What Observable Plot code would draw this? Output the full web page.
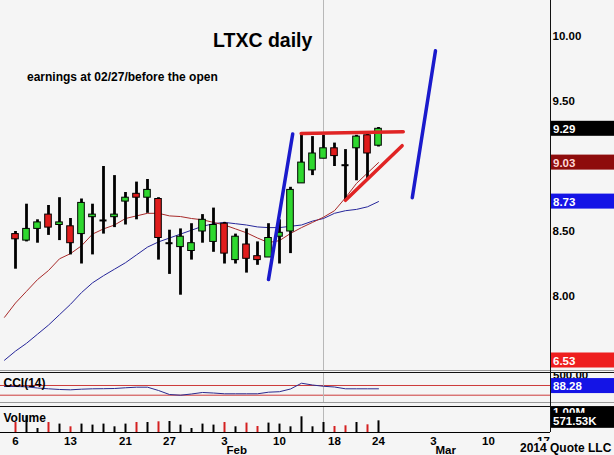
<!DOCTYPE html>
<html><head><meta charset="utf-8">
<script src="https://cdn.jsdelivr.net/npm/d3@7"></script>
<script src="https://cdn.jsdelivr.net/npm/@observablehq/plot@0.6"></script>
<style>
html,body{margin:0;padding:0;background:#f5f5f5;overflow:hidden;}
#chart{position:relative;width:614px;height:455px;overflow:hidden;background:#f5f5f5;font-family:"Liberation Sans",Arial,sans-serif;font-weight:bold;}
#chart svg{position:absolute;left:0;overflow:hidden;}
.ln{position:absolute;}
</style></head><body><div id="chart"></div>
<script>
// ---- data (trading-day index 0 = Jan 6 2014 ... 33 = Feb 24 2014)
const days = ["01-06","01-07","01-08","01-09","01-10","01-13","01-14","01-15","01-16","01-17",
  "01-21","01-22","01-23","01-24","01-27","01-28","01-29","01-30","01-31",
  "02-03","02-04","02-05","02-06","02-07","02-10","02-11","02-12","02-13","02-14",
  "02-18","02-19","02-20","02-21","02-24"];
const opens  = [8.48,8.43,8.52,8.63,8.55,8.54,8.48,8.61,8.585,8.61,8.73,8.79,8.76,8.75,8.41,8.38,8.35,8.50,8.42,8.56,8.28,8.40,8.31,8.30,8.46,8.50,8.87,8.97,9.06,9.14,9.01,9.14,9.24,9.16];
const highs  = [8.50,8.71,8.59,8.70,8.76,8.60,8.75,8.71,9.00,8.93,8.80,8.88,8.90,8.76,8.51,8.52,8.56,8.63,8.68,8.57,8.48,8.52,8.42,8.56,8.59,8.84,9.24,9.23,9.24,9.18,9.13,9.24,9.25,9.30];
const lows   = [8.21,8.42,8.41,8.47,8.43,8.32,8.25,8.32,8.48,8.53,8.55,8.59,8.64,8.28,8.17,8.01,8.28,8.41,8.34,8.25,8.25,8.18,8.24,8.30,8.25,8.33,8.87,8.93,9.06,9.00,8.74,8.89,8.90,9.15];
const closes = [8.44,8.52,8.57,8.53,8.57,8.41,8.72,8.63,8.585,8.63,8.76,8.76,8.82,8.45,8.41,8.46,8.41,8.59,8.55,8.33,8.46,8.29,8.28,8.45,8.49,8.82,9.03,9.10,9.14,9.08,9.01,9.23,9.10,9.29];
// moving averages, from index -1 to 33
const maRed  = [7.84,7.95,8.04,8.13,8.20,8.29,8.33,8.39,8.48,8.52,8.55,8.60,8.62,8.64,8.64,8.62,8.615,8.60,8.59,8.57,8.55,8.52,8.49,8.45,8.415,8.43,8.485,8.53,8.57,8.61,8.66,8.76,8.87,8.95,9.03];
const maBlue = [7.51,7.58,7.64,7.71,7.78,7.86,7.94,8.03,8.105,8.16,8.21,8.26,8.32,8.38,8.42,8.45,8.48,8.51,8.54,8.56,8.57,8.56,8.55,8.535,8.53,8.53,8.54,8.55,8.58,8.60,8.64,8.66,8.67,8.69,8.73];
// CCI(14), from index -1 to 33
const cci = [79,79,73,48,32,18,11,24,32,34,38,53,65,65,-3,-86,-100,-75,-44,-55,-71,-71,-71,-71,-38,-28,28,147,110,84,69,32,32,32,32];
// volume (shares) and down-day flags
const volume = [490e3,818e3,196e3,490e3,412e3,279e3,412e3,363e3,412e3,279e3,412e3,490e3,490e3,524e3,539e3,363e3,196e3,412e3,363e3,490e3,279e3,461e3,294e3,461e3,412e3,279e3,769e3,279e3,490e3,294e3,328e3,490e3,377e3,571.53e3];
const volDown = [1,0,0,1,0,1,0,0,0,0,0,1,0,1,0,0,0,0,0,1,0,1,1,0,0,0,0,0,0,1,1,0,1,0];
// drawn annotations: [index, price] end points
const blueLegs = [{id:"a",pts:[[23,8.13],[25.2,9.25]]},{id:"b",pts:[[36.07,8.76],[38.18,9.89]]}];
const redLines = [{id:"top",pts:[[25.97,9.254],[35.25,9.267]]},{id:"bot",pts:[[30,8.74],[35.15,9.16]]}];
const cursorIndex = 28;
// axis ticks
const priceTicks = [8, 8.5, 9.5, 10];
const tickIndex  = [0,5,10,14,19,24,29,33,38,43,48];
const tickLabels = ["6","13","21","27","3","10","18","24","3","10","17"];
const monthIndex = [19,38];
const monthLabels = ["Feb","Mar"];
// last-value labels
const priceLabels = [{v:9.29,t:"9.29",bg:"#000000",fg:"#ffffff"},{v:9.03,t:"9.03",bg:"#8e0c0c",fg:"#ffd8d8"},{v:8.73,t:"8.73",bg:"#1414e6",fg:"#ffffff"},{v:6.53,t:"6.53",bg:"#ee1e1e",fg:"#ffffff"}];
const cciLabels = [{v:500,t:"500.00",bg:"#f5f5f5",fg:"#000"},{v:88.28,t:"88.28",bg:"#1414e6",fg:"#ffffff"}];
const volLabels = [{v:1e6,t:"1.00M",bg:"#000",fg:"#fff"},{v:571.53e3,t:"571.53K",bg:"#000",fg:"#fff"}];

// ---- build
const chart = document.getElementById("chart");
const xDomain = [-15/11, 535/11];
const font = {fontFamily:'"Liberation Sans", Arial, sans-serif', fontSize:"11.5px", fontWeight:"bold", background:"transparent", color:"#000"};
const candles = opens.map((o,i)=>({i, open:o, high:highs[i], low:lows[i], close:closes[i]}));
const bodies = candles.filter(d=>d.open!==d.close);
const dojis = candles.filter(d=>d.open===d.close);
const seq = arr => arr.map((v,k)=>({i:k-1, v}));
const flat = groups => groups.flatMap(g=>g.pts.map(p=>({id:g.id, i:p[0], v:p[1]})));

function addLabels(svg, scale, labels, maxY, minY){
  const g = d3.select(svg).append("g").attr("text-anchor","start");
  for (const L of labels){
    let y = scale.apply(L.v);
    if (maxY!=null) y = Math.min(y, maxY);
    if (minY!=null) y = Math.max(y, minY);
    g.append("rect").attr("x",551).attr("y",y-7.5).attr("width",63).attr("height",15).attr("fill",L.bg);
    g.append("text").attr("x",553).attr("y",y+4.5).attr("fill",L.fg).attr("font-size","11.5px").attr("font-weight","bold").text(L.t);
  }
}

// main price panel
const main = Plot.plot({
  width:614, height:370, marginLeft:0, marginRight:64, marginTop:0, marginBottom:0,
  x:{type:"linear", domain:xDomain, axis:null},
  y:{domain:[7.4308, 10.2769], axis:null},
  style:font,
  marks:[
    Plot.ruleX([cursorIndex], {stroke:"#b8b8b8", strokeWidth:1}),
    Plot.line(seq(maBlue), {x:"i", y:"v", stroke:"#26269a", strokeWidth:1}),
    Plot.line(seq(maRed), {x:"i", y:"v", stroke:"#a82a2a", strokeWidth:1}),
    Plot.ruleX(candles, {x:"i", y1:"low", y2:"high", stroke:"#000", strokeWidth:2.8}),
    Plot.rect(bodies, {x1:d=>d.i-0.3, x2:d=>d.i+0.3, y1:"open", y2:"close", fill:d=>d.close>d.open?"#2fd82f":"#e01c1c", stroke:"#000", strokeWidth:1}),
    Plot.ruleY(dojis, {y:"close", x1:d=>d.i-0.32, x2:d=>d.i+0.32, stroke:"#000", strokeWidth:2}),
    Plot.line(flat(blueLegs), {x:"i", y:"v", z:"id", stroke:"#1a1acc", strokeWidth:3.5}),
    Plot.line(flat(redLines), {x:"i", y:"v", z:"id", stroke:"#e02424", strokeWidth:3.5}),
    Plot.axisY({anchor:"right", ticks:priceTicks, tickFormat:d3.format(".2f"), tickSize:0, tickPadding:2, label:null, fontSize:11.5})
  ]
});
main.style.top = "0px";
chart.appendChild(main);
addLabels(main, main.scale("y"), priceLabels, 360);
const ms = d3.select(main).append("g").attr("text-anchor","start");
ms.append("text").attr("x",213).attr("y",47).attr("font-size","19.5px").attr("font-weight","bold").attr("fill","#000").text("LTXC daily");
ms.append("text").attr("x",27).attr("y",81).attr("font-size","12px").attr("font-weight","bold").attr("fill","#000").text("earnings at 02/27/before the open");

// CCI panel
const cciPlot = Plot.plot({
  width:614, height:29, marginLeft:0, marginRight:64, marginTop:0, marginBottom:0,
  x:{type:"linear", domain:xDomain, axis:null},
  y:{domain:[-250.5, 347.4], axis:null},
  style:font,
  marks:[
    Plot.ruleY([100,-100], {stroke:"#cc3a3a", strokeWidth:1}),
    Plot.ruleX([cursorIndex], {stroke:"#b8b8b8", strokeWidth:1}),
    Plot.line(seq(cci), {x:"i", y:"v", stroke:"#2a2a8e", strokeWidth:1}),
    Plot.text(["CCI(14)"], {frameAnchor:"top-left", dx:3, dy:5, fontSize:12, fontWeight:"bold", fill:"#000"})
  ]
});
cciPlot.style.top = "373px";
chart.appendChild(cciPlot);
addLabels(cciPlot, cciPlot.scale("y"), cciLabels, null, 1);

// volume panel + date axis
const volData = volume.map((v,i)=>({i, v, down:volDown[i]}));
const volPlot = Plot.plot({
  width:614, height:48, marginLeft:0, marginRight:64, marginTop:0, marginBottom:23,
  x:{type:"linear", domain:xDomain},
  y:{domain:[0, 1.225e6], axis:null},
  style:font,
  marks:[
    Plot.ruleX([cursorIndex], {stroke:"#b8b8b8", strokeWidth:1}),
    Plot.ruleX(volData, {x:"i", y1:0, y2:"v", stroke:d=>d.down?"#d42020":"#000", strokeWidth:2}),
    Plot.ruleY([0], {stroke:"#000", strokeWidth:1}),
    Plot.text(["Volume"], {frameAnchor:"top-left", dx:3, dy:6, fontSize:12, fontWeight:"bold", fill:"#000"}),
    Plot.axisX({ticks:tickIndex, tickFormat:(d)=>tickLabels[tickIndex.indexOf(d)], tickSize:0, tickPadding:4, label:null, fontSize:11.5}),
    Plot.text(monthIndex.map((m,k)=>({i:m, t:monthLabels[k]})), {x:"i", text:"t", frameAnchor:"bottom", dy:21, dx:2, textAnchor:"start", fontSize:11.5, fontWeight:"bold", fill:"#000"})
  ]
});
volPlot.style.top = "407px";
chart.appendChild(volPlot);
addLabels(volPlot, volPlot.scale("y"), volLabels);

// frame lines and copyright
function line(css){ const d=document.createElement("div"); d.className="ln"; Object.assign(d.style, css); chart.appendChild(d); }
line({left:"0px", top:"370px", width:"614px", height:"1px", background:"#9a9a9a"});
line({left:"0px", top:"372px", width:"614px", height:"1px", background:"#111"});
line({left:"0px", top:"402px", width:"614px", height:"1px", background:"#9a9a9a"});
line({left:"0px", top:"406px", width:"614px", height:"1px", background:"#111"});
line({left:"550px", top:"0px", width:"1px", height:"432px", background:"#111"});
const cp = document.createElement("div");
Object.assign(cp.style, {position:"absolute", left:"520px", top:"441px", width:"94px", height:"14px", lineHeight:"14px", fontSize:"12px", background:"#f5f5f5", color:"#000", whiteSpace:"nowrap"});
cp.textContent = "2014 Quote LLC";
chart.appendChild(cp);
</script></body></html>
